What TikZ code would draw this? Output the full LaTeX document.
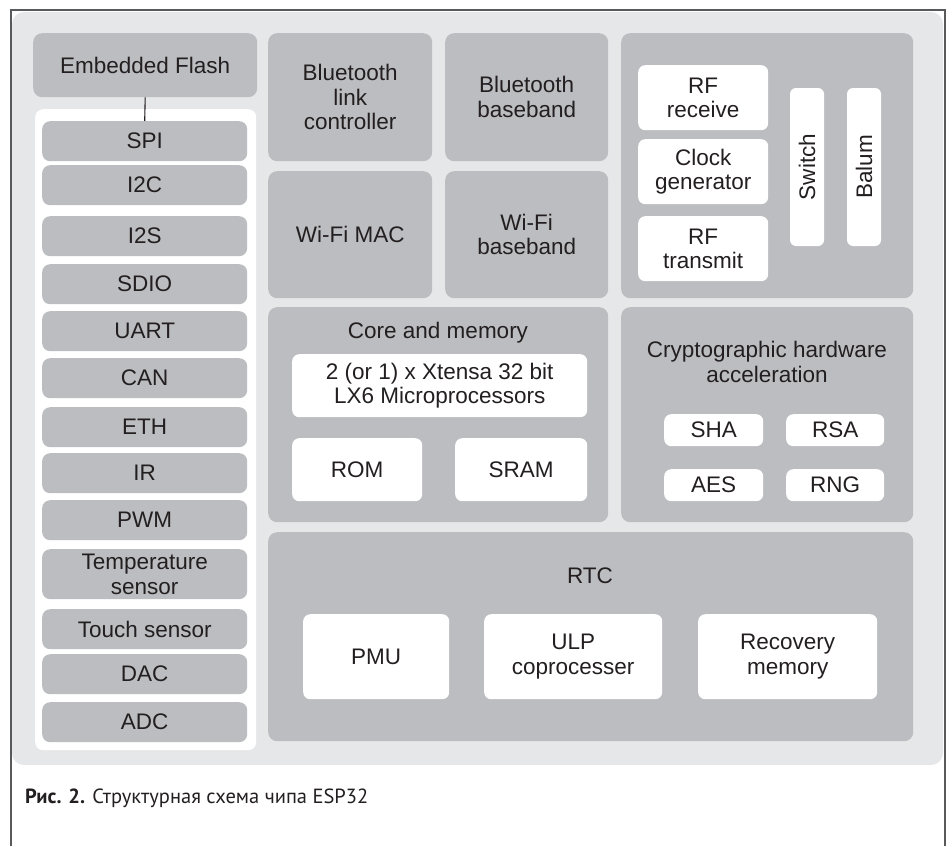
\documentclass[tikz,border=0pt]{standalone}
\usepackage{fontspec}
\setmainfont{Liberation Sans}
\newfontfamily\capfont{PT Sans}
\usepackage{xcolor}
\usetikzlibrary{positioning}
\definecolor{panelgray}{RGB}{230,231,232}
\definecolor{blockgray}{RGB}{188,189,192}
\definecolor{inkgray}{RGB}{35,31,32}
\definecolor{framegray}{RGB}{88,89,91}
\newcommand{\blkfont}{\fontsize{22.5}{24.5}\selectfont}

\begin{document}
\begin{tikzpicture}[
      x=1pt, y=-1pt,
      every node/.style={text=inkgray, font=\blkfont, align=center, inner sep=0pt},
      wh/.style 2 args={minimum width=#1pt, minimum height=#2pt},
      block/.style={fill=blockgray, rounded corners=9pt, anchor=north west},
      cell/.style={fill=white, rounded corners=7pt, anchor=north west},
      port/.style={fill=blockgray, rounded corners=8pt, anchor=north west, minimum width=205pt},
      bar/.style={fill=white, rounded corners=6pt, rotate=90, wh={158}{34}}
    ]
      \useasboundingbox (0,0) rectangle (952,846);
      % chip outline
      \fill[panelgray, rounded corners=12pt] (12,12) rectangle (943,765);
      \draw[framegray, line width=1.3pt] (11,846) -- (11,10) -- (945,10) -- (945,846);

      % flash and peripherals
      \node[block, wh={224}{64}] (flash) at (33,33) {Embedded Flash};
      \node[fill=white, rounded corners=8pt, anchor=north west, wh={221}{641}] (iocol) at (35,109) {};
      \foreach \nm/\yy/\hh/\txt in {spi/121/40/SPI, i2c/165/40/I2C, i2s/216/40/I2S, sdio/264/40/SDIO,
          uart/311/40/UART, can/358/40/CAN, eth/407/40/ETH, ir/453/40/IR, pwm/500/40/PWM,
          temp/549/50/{Temperature\\sensor}, touch/609/40/Touch sensor, dac/654/40/DAC, adc/702/40/ADC}
        \node[port, minimum height=\hh pt] (\nm) at (42,\yy) {\txt};
      \draw[inkgray, line width=1.1pt] (flash.south) -- (spi.north);

      % radio blocks
      \node[block, wh={164}{128}] (btlink) at (268,33) {Bluetooth\\link\\controller};
      \node[block, wh={163}{128}] (btbb) at (445,33) {Bluetooth\\baseband};
      \node[block, wh={164}{127}] (wifimac) at (268,171) {Wi-Fi MAC};
      \node[block, wh={163}{127}] (wifibb) at (445,171) {Wi-Fi\\baseband};

      \node[block, wh={292}{265}] (rf) at (621,33) {};
      \node[cell, wh={130}{65}] (rfrx) at (638,65) {RF\\receive};
      \node[cell, wh={130}{65}] (clkgen) at (638,139) {Clock\\generator};
      \node[cell, wh={130}{65}] (rftx) at (638,216) {RF\\transmit};
      \node[bar] (switch) at (807,167) {Switch};
      \node[bar] (balum) at (864,167) {Balum};

      % core
      \node[block, wh={340}{215}] (core) at (268,307) {};
      \node (coretitle) at (438,333) {Core and memory};
      \node[cell, wh={295}{63}] (cpu) at (292,354) {2 (or 1) x Xtensa 32 bit\\LX6 Microprocessors};
      \node[cell, wh={130}{63}] (rom) at (292,438) {ROM};
      \node[cell, wh={132}{63}] (sram) at (455,438) {SRAM};

      % crypto
      \node[block, wh={292}{215}] (crypto) at (621,307) {};
      \node (cryptotitle) at (767,362) {Cryptographic hardware\\acceleration};
      \node[cell, wh={99}{32}] (sha) at (664,414) {SHA};
      \node[cell, wh={98}{32}] (rsa) at (786,414) {RSA};
      \node[cell, wh={99}{32}] (aes) at (664,469) {AES};
      \node[cell, wh={98}{32}] (rng) at (786,469) {RNG};

      % rtc
      \node[block, wh={645}{209}] (rtc) at (268,532) {};
      \node (rtctitle) at (590,576) {RTC};
      \node[cell, wh={146}{85}] (pmu) at (303,614) {PMU};
      \node[cell, wh={178}{85}] (ulp) at (484,614) {ULP\\coprocesser};
      \node[cell, wh={179}{85}] (recmem) at (698,614) {Recovery\\memory};

      \node[anchor=west, font=\capfont\fontsize{20.5}{24}\selectfont] (caption) at (25,798)
        {\textbf{Рис. 2.} Структурная схема чипа ESP32};
    \end{tikzpicture}
\end{document}
